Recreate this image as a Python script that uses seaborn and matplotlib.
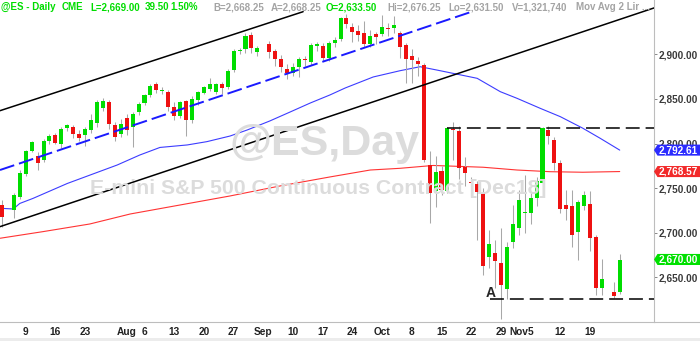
import numpy as np
import pandas as pd
import matplotlib
matplotlib.use("Agg")
import matplotlib.pyplot as plt
import matplotlib.ticker as mticker
from matplotlib.patches import Polygon, Rectangle
from matplotlib.lines import Line2D
import seaborn as sns

sns.set_style("white")
plt.rcParams["font.family"] = ["Liberation Sans", "DejaVu Sans"]
plt.rcParams["lines.scale_dashes"] = False

# ---------------- data ----------------
dates = pd.bdate_range("2018-07-03", "2018-11-26")   # daily slots (holidays stay empty)
nan = np.nan
opens = [2731, nan, 2726, 2740.4, 2766, 2792, 2786, 2781, 2803, 2809,
         2800, 2817.7, 2819, 2810.4, 2810, 2815.2, 2823.4, 2840.2, 2846.6, 2820.8,
         2810.4, 2829, 2818.9, 2835.3, 2845.8, 2854.4, 2866.4, 2858.5, 2857.8, 2840.4,
         2831.4, 2847.9, 2826.4, 2848.6, 2857, 2860.9, 2857.8, 2866.5, 2863.4, 2882.4,
         2904, 2905.6, 2921.7, 2903, nan, 2911.6, 2904.1, 2894.4, 2883.6, 2879.4,
         2885.8, 2895.3, 2891.7, 2909.7, 2909.6, 2896.2, 2913, 2916.8, 2940.4, 2930.1,
         2926.7, 2923.6, 2911.6, 2922.8, 2922.8, 2929.2, 2929.8, 2923.6, 2910.5, 2898.1,
         2892.5, 2888, 2775.9, 2747.1, 2769.2, 2746.8, 2816, 2814, 2774, 2756.5,
         2754.6, 2744.2, 2672.5, 2676.9, 2665.7, 2637.3, 2689.3, 2705, 2722, 2721.8,
         2738.6, 2755.4, 2815.2, 2804, 2777.8, 2731.1, 2730.3, 2700.5, 2730.3, 2732.2,
         2694.9, 2637.7, nan, 2634, 2633.5]
highs = [2737, nan, 2745, 2770, 2793, 2803, 2790, 2805, 2811, 2812,
         2818, 2822, 2821, 2815, 2818, 2833, 2849, 2851, 2849, 2824,
         2827, 2833, 2835, 2846, 2856, 2867, 2869, 2863, 2860, 2846,
         2848, 2849, 2853, 2859, 2865, 2874, 2868, 2869, 2884, 2906,
         2907, 2924, 2925, 2909, nan, 2915, 2906, 2899, 2889, 2890,
         2897, 2898, 2913, 2914, 2913, 2915, 2919, 2942, 2945, 2935,
         2933, 2937, 2927, 2925, 2944, 2935, 2943, 2926, 2913, 2906,
         2897, 2890, 2792, 2786, 2775, 2819, 2824, 2820, 2785, 2762,
         2758, 2750, 2703, 2692, 2705, 2690, 2731, 2748, 2765, 2745,
         2762, 2818, 2820, 2807, 2782, 2748, 2748, 2737, 2747, 2747,
         2697, 2670, nan, 2645, 2676.25]
lows = [2706, nan, 2717, 2738, 2764, 2790, 2770, 2779, 2800, 2799,
        2795, 2814, 2806, 2803, 2797, 2812, 2818, 2836, 2816, 2803,
        2807, 2810, 2796, 2832, 2843, 2852, 2857, 2855, 2837, 2826,
        2829, 2808, 2823, 2843, 2855, 2859, 2855, 2856, 2861, 2880,
        2900, 2902, 2902, 2898, nan, 2896, 2887, 2880, 2872, 2876,
        2875, 2887, 2888, 2904, 2893, 2893, 2908, 2915, 2930, 2914,
        2915, 2908, 2908, 2912, 2920, 2920, 2924, 2896, 2868, 2868,
        2876, 2779, 2711, 2729, 2742, 2745, 2781, 2760, 2752, 2741,
        2692, 2653, 2660, 2638, 2603.5, 2626, 2683, 2697, 2700, 2710,
        2730, 2752, 2800, 2770, 2722, 2714, 2684, 2669, 2726, 2680,
        2630, 2630, nan, 2627, 2631.5]
closes = [2718, nan, 2742.6, 2767.3, 2792, 2801.4, 2778.5, 2803, 2808.4, 2801,
          2816.3, 2820.4, 2810.4, 2806, 2816.6, 2826.4, 2846.6, 2848, 2822.2, 2807.7,
          2821.6, 2815.2, 2833.1, 2844.3, 2854.7, 2864.5, 2860, 2859.5, 2841.3, 2830.3,
          2846.2, 2826.4, 2849.6, 2857.2, 2863, 2866.7, 2866.5, 2862.8, 2881.6, 2903.7,
          2904.8, 2920.5, 2907.1, 2906.8, nan, 2903, 2894.4, 2886.1, 2879.4, 2885.8,
          2895.1, 2893.6, 2911, 2911.9, 2896.1, 2912.7, 2916, 2940.4, 2933.8, 2925.4,
          2921.7, 2911.6, 2920.5, 2919.8, 2930.3, 2928.4, 2932.9, 2908.6, 2894.4, 2893.6,
          2888.6, 2781.5, 2744.9, 2767.7, 2747.9, 2817.1, 2815, 2772.2, 2766.6, 2755.3,
          2746, 2662.7, 2687.4, 2668.3, 2641.4, 2683.7, 2709.8, 2736.7, 2723.5, 2738.9,
          2758.3, 2817.1, 2808.4, 2778.5, 2726.6, 2726.6, 2697.5, 2734.4, 2742.3, 2694.4,
          2638, 2647.8, nan, 2629.5, 2669]

# moving averages (bar position, value)
ma_fast_pos = [-0.3, 1.9, 3.0, 5.2, 11.0, 15.3, 19.4, 23.2, 26.6, 31.2, 34.5, 38.4, 41.3, 45.1,
               48.5, 51.9, 55.2, 57.8, 62.5, 67.0, 70.4, 73.2, 75.4, 80.0, 83.9, 86.7, 90.6,
               94.0, 97.8, 100.7, 104.0]
ma_fast_val = [2727.4, 2726.6, 2732.8, 2738.4, 2755.2, 2765.8, 2775.9, 2787.1, 2795.6, 2798.4,
               2802.1, 2808.4, 2815.2, 2825.3, 2835.3, 2845.4, 2854.4, 2862.3, 2874.6, 2881.6,
               2886.1, 2882.4, 2879.4, 2873.1, 2858.1, 2850.7, 2839.5, 2830.1, 2817.1, 2805.9,
               2792.61]
ma_slow_pos = [-0.3, 6.9, 14.8, 21.6, 30.0, 38.4, 46.8, 55.2, 62.0, 67.0, 72.6, 81.0, 86.7,
               92.3, 97.8, 104.0]
ma_slow_val = [2693.8, 2701.2, 2709.8, 2721.0, 2731.1, 2741.2, 2752.4, 2762.5, 2770.3, 2772.2,
               2775.4, 2773.4, 2770.3, 2768.4, 2767.8, 2768.57]
last_price_label = 2670.00

# trendlines (bar position, price)
chan_top_pos, chan_top_val = [-0.33, 50.7], [2836.8, 2947.8]
chan_bot_pos, chan_bot_val = [-0.33, 110.0], [2706.8, 2952.5]
chan_mid_pos, chan_mid_val = [-0.33, 79.1], [2770.3, 2947.8]
res_pos, res_val = [74.9, 110.0], [2817.1, 2817.1]
sup_pos, sup_val = [82.2, 110.0], [2625.4, 2625.4]

price_ticks = [2650, 2700, 2750, 2800, 2850, 2900]
xtick_dates = ["2018-07-09", "2018-07-16", "2018-07-23", "2018-07-30", "2018-08-01", "2018-08-06",
               "2018-08-13", "2018-08-20", "2018-08-27", "2018-09-03", "2018-09-10", "2018-09-17",
               "2018-09-24", "2018-10-01", "2018-10-08", "2018-10-15", "2018-10-22", "2018-10-29",
               "2018-11-01", "2018-11-05", "2018-11-12", "2018-11-19"]
xtick_labels = ["9", "16", "23", "", "Aug", "6", "13", "20", "27", "Sep", "10", "17", "24",
                "Oct", "8", "15", "22", "29", "Nov", "5", "12", "19"]

header_texts = ["@ES - Daily", "CME", "L=2,669.00", "39.50", "1.50%", "B=2,668.25",
                "A=2,668.25", "O=2,633.50", "Hi=2,676.25", "Lo=2,631.50", "V=1,321,740",
                "Mov Avg 2 Lir ..."]
header_is_green = [True, True, True, True, True, False, False, True, False, False, False, False]
header_x_px = [0.7, 61.7, 90.7, 144.5, 170.5, 213.3, 270.7, 325.5, 387.3, 448.5, 512.0, 575.5]

GREEN = "#00dd00"
RED = "#ee1111"
GRAY_TXT = "#a4a4a4"

# ---------------- figure ----------------
W, H = 700, 341
fig = plt.figure(figsize=(W / 100, H / 100), dpi=100)
ax = fig.add_axes([0, 19 / H, 654 / W, 322 / H])

idx = np.arange(len(dates))
o, h, l, c = (np.array(v, dtype=float) for v in (opens, highs, lows, closes))
valid = ~np.isnan(o)
up = valid & (c >= o)
dn = valid & (c < o)
bottom = np.minimum(o, c)
height = np.maximum(np.abs(c - o), 1.2)

# watermark
fig.text(230 / W, (H - 155) / H, "@ES,Day", fontsize=31, fontweight="bold",
         color="#dcdcdc", ha="left", va="baseline", zorder=0.1)
fig.text(90 / W, (H - 194) / H, "E-mini S&P 500 Continuous Contract [Dec18]", fontsize=15.3,
         fontweight="bold", color="#dcdcdc", ha="left", va="baseline", zorder=0.1)
ax.patch.set_alpha(0)

# moving averages
sns.lineplot(x=ma_fast_pos, y=ma_fast_val, ax=ax, color="#3c3cff", lw=0.8, zorder=1, sort=False)
sns.lineplot(x=ma_slow_pos, y=ma_slow_val, ax=ax, color="#ff3333", lw=0.8, zorder=1, sort=False)

# candles
ax.vlines(idx[valid], l[valid], h[valid], color="#a8a8a8", lw=0.75, zorder=3)
ax.bar(idx[up], height[up], bottom=bottom[up], width=0.68, color=GREEN, linewidth=0, zorder=4)
ax.bar(idx[dn], height[dn], bottom=bottom[dn], width=0.68, color=RED, linewidth=0, zorder=4)

# trendlines
ax.plot(chan_top_pos, chan_top_val, color="black", lw=1.1, zorder=5)
ax.plot(chan_bot_pos, chan_bot_val, color="black", lw=1.1, zorder=5)
ax.plot(chan_mid_pos, chan_mid_val, color="#1a1aff", lw=1.4, dashes=(10.8, 3.6), zorder=5)
ax.plot(res_pos, res_val, color="black", lw=1.1, dashes=(10.0, 4.3), zorder=5)
ax.plot(sup_pos, sup_val, color="black", lw=1.1, dashes=(10.0, 4.3), zorder=5)
ax.text(82.2, 2628.0, "A", fontsize=10, fontweight="bold", ha="center", va="baseline", zorder=6)

ax.set_xlim(-0.327, 109.77)
ax.set_ylim(2599.9, 2960.9)

# axes styling
for s in ("left", "top"):
    ax.spines[s].set_visible(False)
for s in ("right", "bottom"):
    ax.spines[s].set_color("#bdbdbd")
    ax.spines[s].set_linewidth(0.8)
fig.add_artist(Line2D([654 / W, 1.0], [19 / H, 19 / H], color="#bdbdbd", lw=0.8))
fig.add_artist(Rectangle((0, 0), 1, 3.5 / H, transform=fig.transFigure,
                         facecolor="#ececec", edgecolor="none"))

ax.yaxis.tick_right()
ax.set_yticks(price_ticks)
ax.yaxis.set_major_formatter(mticker.StrMethodFormatter("{x:,.2f}"))
ax.tick_params(axis="y", direction="out", length=2.2, width=0.7, color="#888888",
               pad=0.8, labelsize=7.2, labelcolor="#3a3a3a")
xt_pos = [dates.get_loc(pd.Timestamp(d)) for d in xtick_dates]
ax.set_xticks(xt_pos)
ax.set_xticklabels(xtick_labels)
ax.tick_params(axis="x", direction="out", length=2.4, width=0.7, color="#888888",
               pad=1.3, labelsize=7.3, labelcolor="#222222")
for t in ax.get_xticklabels() + ax.get_yticklabels():
    t.set_fontweight("bold")
ax.set_xlabel("")
ax.set_ylabel("")

# last-value boxes on the price scale
trans = ax.get_yaxis_transform()
def price_box(val, color):
    hh = 6.2
    x1 = 1.0 + 3.5 / 654
    x2 = W / 654
    poly = Polygon([(1.0, val), (x1, val + hh), (x2, val + hh), (x2, val - hh), (x1, val - hh)],
                   closed=True, transform=trans, facecolor=color, edgecolor="none",
                   clip_on=False, zorder=10)
    ax.add_patch(poly)
    ax.text(x1 + 1.5 / 654, val, f"{val:,.2f}", transform=trans, color="white", fontsize=7.2,
            fontweight="bold", va="center", ha="left", clip_on=False, zorder=11)

price_box(ma_fast_val[-1], "#2b2bff")
price_box(ma_slow_val[-1], "#f22a2a")
price_box(last_price_label, "#00e000")

# header line
for xp, txt, g in zip(header_x_px, header_texts, header_is_green):
    fig.text(xp / W, (H - 10) / H, txt, fontsize=7.05, fontweight="bold",
             color=GREEN if g else GRAY_TXT, ha="left", va="baseline", zorder=20)

fig.savefig("out.png", dpi=100)
